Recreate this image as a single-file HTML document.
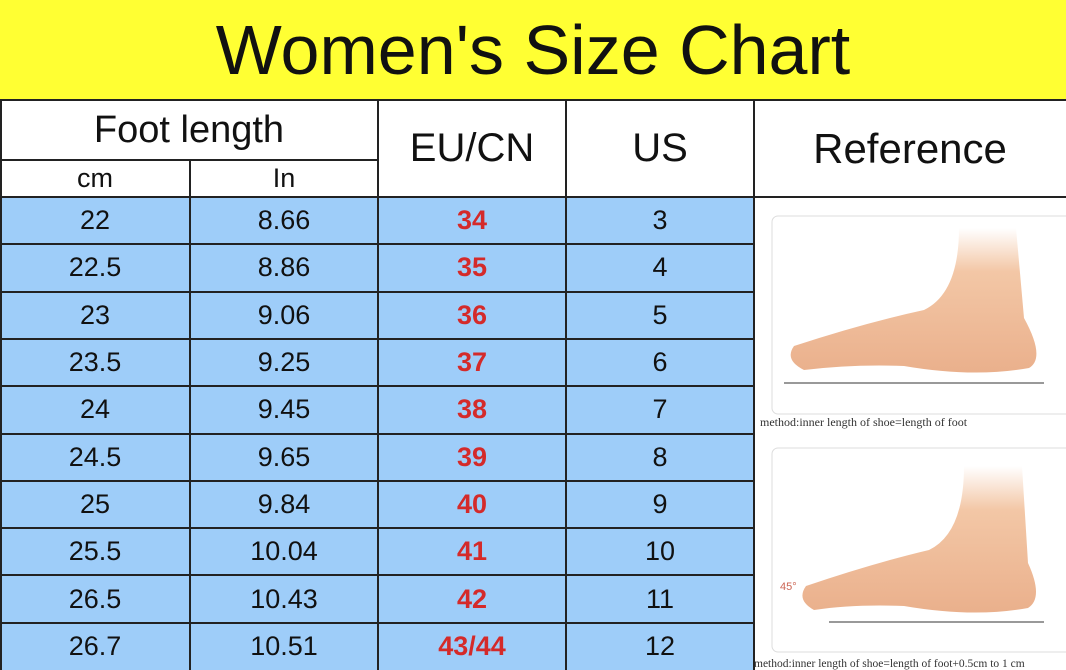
<!DOCTYPE html>
<html><head><meta charset="utf-8"><style>
body{margin:0;width:1066px;height:670px;overflow:hidden;background:#fff;font-family:"Liberation Sans","DejaVu Sans",sans-serif;position:relative}
.a{position:absolute;display:flex;align-items:center;justify-content:center;box-sizing:border-box}
.h{position:absolute;background:#222}
.t{color:#111;font-size:27px}
.r{color:#d42a2a;font-weight:bold;font-size:27px}
</style></head><body>
<div class="a" style="left:0;top:0;width:1066px;height:100px;background:#ffff33;font-size:70px;color:#111">Women's Size Chart</div>
<div class="a t" style="left:0;top:100px;width:378px;height:60px;font-size:38px">Foot length</div>
<div class="a t" style="left:0;top:160px;width:190px;height:37px">cm</div>
<div class="a t" style="left:190px;top:160px;width:188px;height:37px">In</div>
<div class="a t" style="left:378px;top:100px;width:188px;height:97px;font-size:40px">EU/CN</div>
<div class="a t" style="left:566px;top:100px;width:188px;height:97px;font-size:40px">US</div>
<div class="a t" style="left:754px;top:100px;width:312px;height:97px;font-size:42px">Reference</div>
<div style="position:absolute;left:0;top:197px;width:754px;height:473px;background:#9ecdf9"></div>
<div id="rows"></div>
<script>
var d=[["22","8.66","34","3"],["22.5","8.86","35","4"],["23","9.06","36","5"],["23.5","9.25","37","6"],["24","9.45","38","7"],["24.5","9.65","39","8"],["25","9.84","40","9"],["25.5","10.04","41","10"],["26.5","10.43","42","11"],["26.7","10.51","43/44","12"]];
var h="",x=[0,190,378,566,754];
d.forEach(function(r,i){var y=197+i*47.3;
for(var j=0;j<4;j++)h+='<div class="a '+(j==2?'r':'t')+'" style="left:'+x[j]+'px;top:'+y+'px;width:'+(x[j+1]-x[j])+'px;height:47.3px">'+r[j]+'</div>';
if(i>0)h+='<div class="h" style="left:0;top:'+(y-1)+'px;width:754px;height:2px"></div>';});
document.getElementById('rows').innerHTML=h;
</script>
<div class="h" style="left:0;top:99px;width:1066px;height:2px"></div>
<div class="h" style="left:0;top:159px;width:378px;height:2px"></div>
<div class="h" style="left:0;top:196px;width:1066px;height:2px"></div>
<div class="h" style="left:0;top:100px;width:2px;height:570px"></div>
<div class="h" style="left:189px;top:160px;width:2px;height:510px"></div>
<div class="h" style="left:377px;top:100px;width:2px;height:570px"></div>
<div class="h" style="left:565px;top:100px;width:2px;height:570px"></div>
<div class="h" style="left:753px;top:100px;width:2px;height:570px"></div>
<svg style="position:absolute;left:754px;top:198px" width="312" height="472">
<defs><linearGradient id="g" x1="0" y1="0" x2="0" y2="1"><stop offset="0" stop-color="#fff"/><stop offset=".3" stop-color="#f3c7a6"/><stop offset="1" stop-color="#eab08c"/></linearGradient></defs>
<rect x="18" y="18" width="312" height="198" rx="6" fill="#fff" stroke="#ddd"/>
<path d="M205 30 L262 30 L270 120 Q292 160 275 170 Q220 180 150 168 Q100 166 50 172 Q30 162 40 148 Q110 125 170 112 Q205 95 205 30Z" fill="url(#g)"/>
<line x1="30" y1="185" x2="290" y2="185" stroke="#333"/>
<text x="6" y="228" font-family="Liberation Serif" font-size="12" fill="#333">method:inner length of shoe=length of foot</text>
<rect x="18" y="250" width="312" height="204" rx="6" fill="#fff" stroke="#ddd"/>
<path d="M210 268 L268 268 L274 365 Q290 400 274 410 Q220 420 150 408 Q100 406 60 412 Q42 402 52 388 Q120 365 175 352 Q210 335 210 268Z" fill="url(#g)"/>
<line x1="75" y1="424" x2="290" y2="424" stroke="#333"/>
<text x="26" y="392" font-size="11" fill="#c65">45°</text>
<text x="0" y="469" font-family="Liberation Serif" font-size="11.5" fill="#333">method:inner length of shoe=length of foot+0.5cm to 1 cm</text>
</svg>
</body></html>
